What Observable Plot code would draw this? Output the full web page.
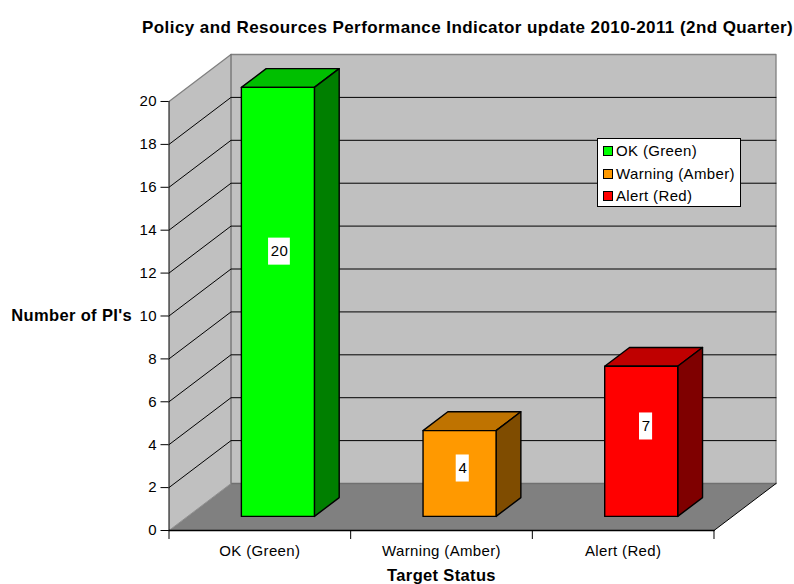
<!DOCTYPE html>
<html><head><meta charset="utf-8">
<script src="https://cdn.jsdelivr.net/npm/d3@7"></script>
<script src="https://cdn.jsdelivr.net/npm/@observablehq/plot@0.6"></script>
<style>
html,body{margin:0;padding:0;background:#fff}
#wrap{position:relative;width:794px;height:584px;font-family:"Liberation Sans",Arial,sans-serif;color:#000;overflow:hidden}
#title{height:40px;line-height:20px;padding-top:18px;box-sizing:border-box;position:relative;font-weight:bold;font-size:17px;letter-spacing:0.43px;text-align:left;padding-left:142px;white-space:nowrap}
svg{display:block}
#legend{position:absolute;left:597px;top:138px;width:144px;height:69px;background:#fff;border:1px solid #000;box-sizing:border-box;font-size:15px;letter-spacing:0.35px}
.row{position:absolute;left:5px;height:22px;line-height:22px;white-space:nowrap}
.sw{display:inline-block;position:absolute;left:0;top:6px;width:10px;height:10px;border:1px solid #000;box-sizing:border-box}
.row span.t{position:absolute;left:13px;top:0}
</style></head>
<body><div id="wrap"><div id="title">Policy and Resources Performance Indicator update 2010-2011 (2nd Quarter)</div></div>
<script>
const categories = ["OK (Green)", "Warning (Amber)", "Alert (Red)"];
const values = [20, 4, 7];
const frontColors = ["#00ff00", "#ff9900", "#ff0000"];
const topColors = ["#00bf00", "#bf7300", "#bf0000"];
const sideColors = ["#007f00", "#7f4c00", "#7f0000"];
const gridValues = [2, 4, 6, 8, 10, 12, 14, 16, 18];
const yTicks = [0, 2, 4, 6, 8, 10, 12, 14, 16, 18, 20];
const yMax = 20;
const nCat = categories.length;

// oblique projection of (category position, value, depth 0..1)
const depthX = 0.3413, depthY = 2.19;
const P = (c, v, d) => ({x: c + d * depthX, y: v + d * depthY});
const poly = (pts, fill, stroke, sw) => Plot.line(
  pts.map(p => P(...p)),
  {x: "x", y: "y", fill, stroke, strokeWidth: sw, curve: "linear", strokeLinejoin: "round"}
);

const marks = [];
// walls and floor
marks.push(poly([[0,0,0],[0,yMax,0],[0,yMax,1],[0,0,1],[0,0,0]], "#c0c0c0", "none", 0));
marks.push(poly([[0,0,1],[0,yMax,1],[nCat,yMax,1],[nCat,0,1],[0,0,1]], "#c0c0c0", "none", 0));
marks.push(poly([[0,0,0],[nCat,0,0],[nCat,0,1],[0,0,1],[0,0,0]], "#808080", "none", 0));
// wall outline
marks.push(poly([[0,yMax,0],[0,yMax,1],[nCat,yMax,1],[nCat,0,1]], "none", "#808080", 1.3));
marks.push(poly([[0,yMax,1],[0,0,1],[nCat,0,1]], "none", "#707070", 1.3));
marks.push(poly([[0,0,0],[0,0,1]], "none", "#909090", 1));
// gridlines
for (const g of gridValues) {
  marks.push(poly([[0,g,0],[0,g,1],[nCat,g,1]], "none", "#000", 1));
}
marks.push(poly([[nCat,0,0],[nCat,0,1]], "none", "#000", 1));
// axes lines
marks.push(poly([[0,0,0],[0,yMax,0]], "none", "#000", 1));
marks.push(poly([[0,0,0],[nCat,0,0]], "none", "#000", 1.3));

// bars
const bx0 = 0.296, bx1 = 0.698, d0 = 0.3, d1 = 0.7;
values.forEach((v, i) => {
  const a = i + bx0, b = i + bx1;
  marks.push(poly([[a,v,d0],[b,v,d0],[b,v,d1],[a,v,d1],[a,v,d0]], topColors[i], "#000", 1.4));
  marks.push(poly([[b,0,d0],[b,0,d1],[b,v,d1],[b,v,d0],[b,0,d0]], sideColors[i], "#000", 1.4));
  marks.push(poly([[a,0,d0],[b,0,d0],[b,v,d0],[a,v,d0],[a,0,d0]], frontColors[i], "#000", 1.4));
});
// value labels with white boxes
const labels = values.map((v, i) => ({
  value: v,
  x: 0.608 + i * 1.009,
  y: 2.89 + 0.653 * (v - 4) - 0.001625 * (v - 4) * (v - 7),
  half: String(v).length > 1 ? 0.06 : 0.036
}));
marks.push(Plot.rect(labels, {x1: d => d.x - d.half, x2: d => d.x + d.half, y1: d => d.y - 0.63, y2: d => d.y + 0.63, fill: "#fff"}));
marks.push(Plot.text(labels, {x: "x", y: "y", text: d => String(d.value), fontSize: 15, fill: "#000", textAnchor: "middle"}));

// axes
marks.push(Plot.axisY({ticks: yTicks, tickSize: 8, tickPadding: 4, label: null, fontSize: 15, tickFormat: d => String(d)}));
marks.push(Plot.axisX({ticks: d3.range(nCat + 1), tickSize: 9, tickFormat: () => "", label: null}));
marks.push(Plot.axisX({ticks: d3.range(nCat).map(i => i + 0.5), tickSize: 0, tickPadding: 15, fontSize: 15, label: null, tickFormat: d => categories[Math.floor(d)]}));
// axis titles
marks.push(Plot.text(["Target Status"], {x: nCat / 2, y: 0, dy: 45, text: d => d, fontWeight: "bold", fontSize: 16.5, fill: "#000"}));
marks.push(Plot.text(["Number of PI's"], {x: 0, y: 10, dx: -37, textAnchor: "end", text: d => d, fontWeight: "bold", fontSize: 16.5, fill: "#000"}));

const chart = Plot.plot({
  width: 794, height: 544,
  marginLeft: 168.5, marginRight: 18.5, marginTop: 14, marginBottom: 54,
  style: {fontFamily: '"Liberation Sans",Arial,sans-serif', background: "#fff", color: "#000", overflow: "visible", letterSpacing: "0.35px"},
  x: {type: "linear", domain: [0, nCat + depthX], axis: null},
  y: {type: "linear", domain: [0, yMax + depthY], axis: null},
  marks
});
const wrap = document.getElementById("wrap");
wrap.appendChild(chart);
const legend = document.createElement("div");
legend.id = "legend";
categories.forEach((c, i) => {
  const r = document.createElement("div");
  r.className = "row";
  r.style.top = (1 + i * 22.5) + "px";
  const s = document.createElement("span"); s.className = "sw"; s.style.background = frontColors[i];
  const t = document.createElement("span"); t.className = "t"; t.textContent = c;
  r.append(s, t); legend.appendChild(r);
});
wrap.appendChild(legend);
</script></body></html>
